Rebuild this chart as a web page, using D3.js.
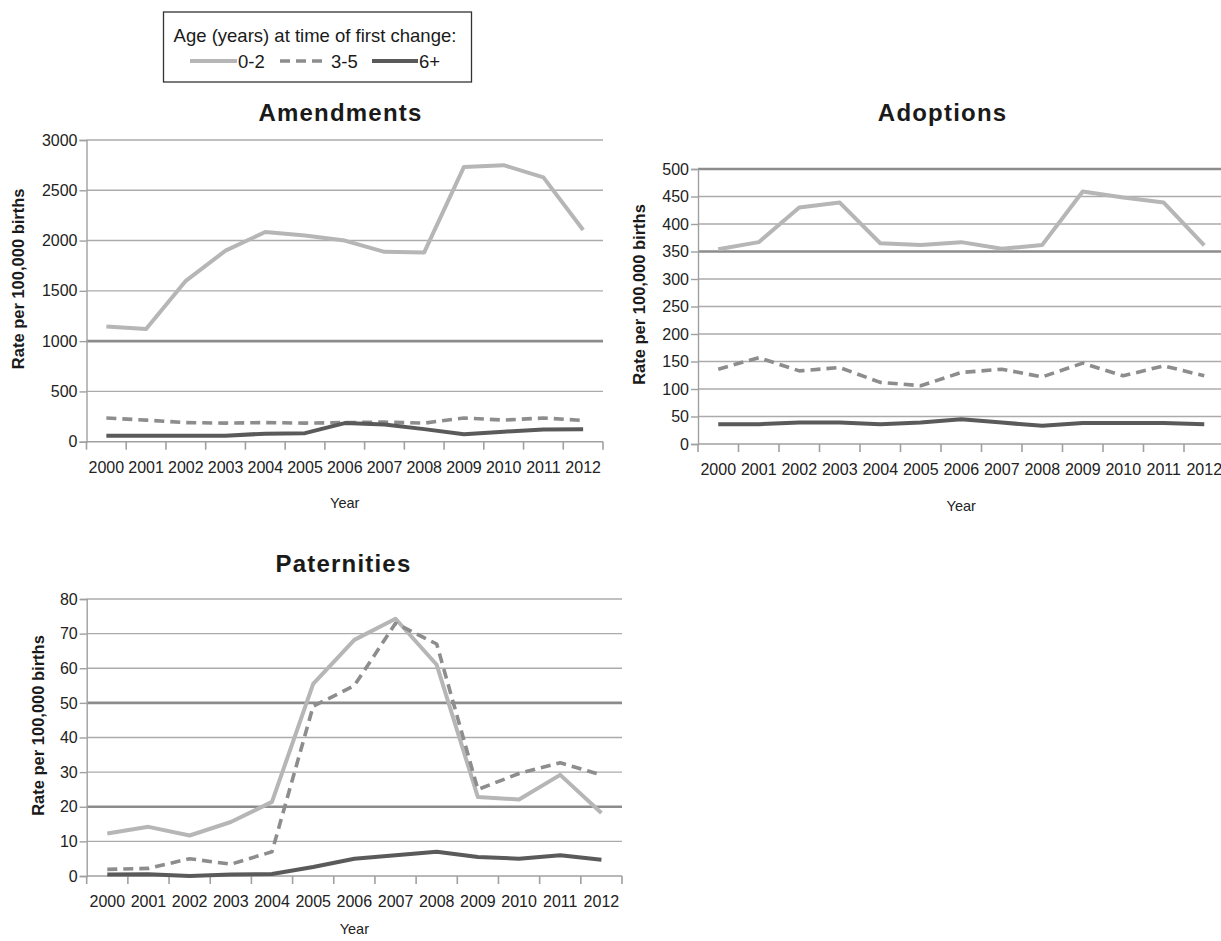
<!DOCTYPE html>
<html>
<head>
<meta charset="utf-8">
<script src="https://cdn.jsdelivr.net/npm/d3@7"></script>
<style>
  body { margin: 0; background: #fff; }
  svg { display: block; font-family: "Liberation Sans", Arial, sans-serif; }
</style>
</head>
<body>
<div id="chart"></div>
<script>
const years = ['2000', '2001', '2002', '2003', '2004', '2005', '2006',
    '2007', '2008', '2009', '2010', '2011', '2012'];
const seriesNames = ['0-2', '3-5', '6+'];

const amendments02 = [1145, 1120, 1600, 1900, 2085, 2050, 2000, 1888, 1882, 2732, 2750, 2628, 2105];
const amendments35 = [235, 215, 190, 185, 190, 185, 190, 195, 185, 235, 215, 235, 212];
const amendments6 = [60, 60, 60, 60, 80, 85, 185, 172, 125, 75, 100, 122, 125];

const adoptions02 = [354, 367, 430, 439, 365, 362, 367, 355, 362, 459, 448, 439, 361];
const adoptions35 = [136, 157, 133, 139, 112, 106, 130, 136, 122, 147, 124, 142, 124];
const adoptions6 = [36, 36, 39, 39, 36, 39, 45, 39, 33, 38, 38, 38, 36];

const paternities02 = [12.3, 14.2, 11.7, 15.6, 21.4, 55.5, 68.2, 74.3, 61, 22.8, 22.1, 29.2, 18.2];
const paternities35 = [1.9, 2.2, 5, 3.4, 7, 49, 55, 73, 67, 25, 29.6, 32.7, 29.2];
const paternities6 = [0.4, 0.5, 0, 0.4, 0.6, 2.6, 5, 6, 7, 5.5, 5, 6, 4.7];

const amendTicks = [0, 500, 1000, 1500, 2000, 2500, 3000];
const adoptTicks = [0, 50, 100, 150, 200, 250, 300, 350, 400, 450, 500];
const patTicks = [0, 10, 20, 30, 40, 50, 60, 70, 80];

const W = 1221, H = 941;
const FONT = '"Liberation Sans", Arial, sans-serif';
const lineStyles = [
    {color: '#b6b6b6', width: 4, dash: null},
    {color: '#8d8d8d', width: 3.6, dash: '10,6'},
    {color: '#5a5a5a', width: 4, dash: null}
];

const svg = d3.select('#chart').append('svg')
    .attr('width', W).attr('height', H);

function drawPanel(p) {
    const x = d3.scaleBand().domain(years).range([p.left, p.right]).padding(0);
    const y = d3.scaleLinear().domain([0, d3.max(p.ticks)]).range([p.bottom, p.top]);
    const g = svg.append('g');

    // grid
    g.append('g').selectAll('line')
        .data(p.ticks.filter(t => t > 0))
        .join('line')
        .attr('x1', p.left).attr('x2', p.right)
        .attr('y1', d => y(d)).attr('y2', d => y(d))
        .attr('stroke', d => p.heavy.includes(d) ? '#8c8c8c' : '#ababab')
        .attr('stroke-width', d => p.heavy.includes(d) ? 2.6 : 1.4);

    // y axis
    const ya = g.append('g')
        .attr('transform', `translate(${p.left},0)`)
        .call(d3.axisLeft(y).tickValues(p.ticks).tickFormat(d3.format('d'))
            .tickSize(7).tickPadding(2));
    ya.select('.domain').attr('stroke', '#a0a0a0').attr('stroke-width', 1.4);
    ya.selectAll('.tick line').attr('stroke', '#a0a0a0').attr('stroke-width', 1.4);
    ya.selectAll('text').attr('font-size', 16).attr('fill', '#222')
        .attr('font-family', FONT);

    // x axis
    const xa = g.append('g')
        .attr('transform', `translate(0,${p.bottom})`)
        .call(d3.axisBottom(x).tickSize(0).tickPadding(20));
    xa.select('.domain').remove();
    xa.selectAll('text').attr('font-size', 16).attr('fill', '#222')
        .attr('font-family', FONT);
    g.append('line')
        .attr('x1', p.left).attr('x2', p.right)
        .attr('y1', p.bottom).attr('y2', p.bottom)
        .attr('stroke', '#a0a0a0').attr('stroke-width', 1.6);
    g.append('g').selectAll('line')
        .data(years.map(d => x(d)).concat([x(years[years.length - 1]) + x.bandwidth()]))
        .join('line')
        .attr('x1', d => d).attr('x2', d => d)
        .attr('y1', p.bottom).attr('y2', p.bottom + 8)
        .attr('stroke', '#a0a0a0').attr('stroke-width', 1.6);

    // lines
    const line = d3.line()
        .x((d, i) => x(years[i]) + x.bandwidth() / 2)
        .y(d => y(d));
    p.series.forEach((s, k) => {
        const st = lineStyles[k];
        g.append('path')
            .datum(s)
            .attr('fill', 'none')
            .attr('stroke', st.color)
            .attr('stroke-width', st.width)
            .attr('stroke-dasharray', st.dash)
            .attr('stroke-linejoin', 'round')
            .attr('d', line);
    });

    // titles
    g.append('text')
        .attr('x', p.titleX).attr('y', p.titleY)
        .attr('text-anchor', 'middle')
        .attr('font-size', 24).attr('font-weight', 'bold')
        .attr('letter-spacing', 1.2).attr('fill', '#1a1a1a')
        .text(p.title);
    g.append('text')
        .attr('x', (p.left + p.right) / 2).attr('y', p.bottom + p.yearOffset)
        .attr('text-anchor', 'middle')
        .attr('font-size', 14.5).attr('fill', '#222')
        .text('Year');
    const yc = (p.top + p.bottom) / 2 - 12;
    g.append('text')
        .attr('transform', `translate(${p.labelX + 6},${yc}) rotate(-90)`)
        .attr('text-anchor', 'middle')
        .attr('font-size', 16.5).attr('font-weight', 'bold').attr('fill', '#1a1a1a')
        .text('Rate per 100,000 births');
}

drawPanel({
    title: 'Amendments', ticks: amendTicks, heavy: [1000],
    series: [amendments02, amendments35, amendments6],
    left: 86.5, right: 603, top: 140, bottom: 441.7,
    titleX: 340.5, titleY: 121, labelX: 18.3, yearOffset: 66
});
drawPanel({
    title: 'Adoptions', ticks: adoptTicks, heavy: [350, 500],
    series: [adoptions02, adoptions35, adoptions6],
    left: 698, right: 1224.5, top: 169, bottom: 444,
    titleX: 942.6, titleY: 121, labelX: 639, yearOffset: 67
});
drawPanel({
    title: 'Paternities', ticks: patTicks, heavy: [20, 50],
    series: [paternities02, paternities35, paternities6],
    left: 86.7, right: 622, top: 599, bottom: 876,
    titleX: 343.5, titleY: 572, labelX: 38.3, yearOffset: 58
});

// legend
const lg = svg.append('g');
lg.append('rect')
    .attr('x', 163.5).attr('y', 12).attr('width', 308).attr('height', 70)
    .attr('fill', '#fff').attr('stroke', '#333').attr('stroke-width', 1.3);
lg.append('text')
    .attr('x', 315).attr('y', 42).attr('text-anchor', 'middle')
    .attr('font-size', 18.5).attr('fill', '#1a1a1a')
    .text('Age (years) at time of first change:');
const legendPos = [{x0: 190, x1: 237, tx: 238}, {x0: 280, x1: 324, tx: 331}, {x0: 372, x1: 418, tx: 419}];
seriesNames.forEach((name, k) => {
    const st = lineStyles[k], lp = legendPos[k];
    lg.append('line')
        .attr('x1', lp.x0).attr('x2', lp.x1).attr('y1', 61).attr('y2', 61)
        .attr('stroke', st.color).attr('stroke-width', st.width)
        .attr('stroke-dasharray', st.dash);
    lg.append('text')
        .attr('x', lp.tx).attr('y', 67.5)
        .attr('font-size', 18.5).attr('fill', '#1a1a1a')
        .text(name);
});
</script>
</body>
</html>
